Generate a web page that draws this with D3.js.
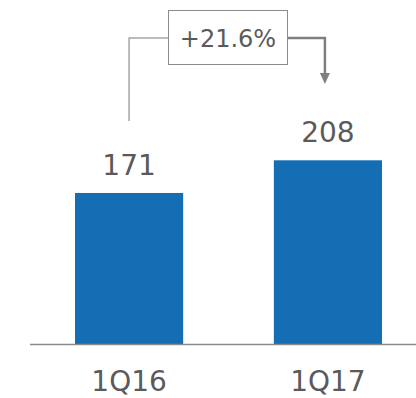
<!DOCTYPE html>
<html>
<head>
<meta charset="utf-8">
<script src="https://cdn.jsdelivr.net/npm/d3@7"></script>
<style>
  body { margin: 0; background: #fff; }
  text { font-family: "DejaVu Sans", Verdana, sans-serif; fill: #5a5a5a; }
</style>
</head>
<body>
<svg id="chart" width="416" height="398"></svg>
<script>
// data
const quarters = ["1Q16", "1Q17"];
const values = [171, 208];
const growthLabel = "+21.6%";

const width = 416, height = 398;
const svg = d3.select("#chart");

const x = d3.scaleBand()
    .domain(quarters)
    .range([75, 382])
    .paddingInner(0.456)
    .paddingOuter(0);

// baseline at 344, 208 reaches ~160
const y = d3.scaleLinear()
    .domain([0, 208])
    .range([344, 160.3]);

svg.selectAll("rect.bar")
    .data(quarters)
    .enter()
    .append("rect")
    .attr("class", "bar")
    .attr("x", d => x(d))
    .attr("y", (d, i) => y(values[i]))
    .attr("width", x.bandwidth())
    .attr("height", (d, i) => y(0) - y(values[i]))
    .attr("fill", "#156db3");

// value labels
svg.selectAll("text.val")
    .data(quarters)
    .enter()
    .append("text")
    .attr("class", "val")
    .attr("x", d => x(d) + x.bandwidth() / 2)
    .attr("y", (d, i) => y(values[i]) - 18)
    .attr("text-anchor", "middle")
    .attr("font-size", 28)
    .text((d, i) => values[i]);

// baseline
svg.append("line")
    .attr("x1", 30).attr("x2", width)
    .attr("y1", y(0) + 0.5).attr("y2", y(0) + 0.5)
    .attr("stroke", "#8c8c8c")
    .attr("stroke-width", 1.5);

// category labels
svg.selectAll("text.cat")
    .data(quarters)
    .enter()
    .append("text")
    .attr("class", "cat")
    .attr("x", d => x(d) + x.bandwidth() / 2)
    .attr("y", 391)
    .attr("text-anchor", "middle")
    .attr("font-size", 28)
    .text(d => d);

// growth annotation
const cx0 = x(quarters[0]) + x.bandwidth() / 2;
const cx1 = x(quarters[1]) + x.bandwidth() / 2 - 3;
const boxX = 168, boxY = 10, boxW = 119, boxH = 54;
const midY = boxY + boxH / 2 + 1;

svg.append("path")
    .attr("d", `M${cx0},121 V${midY} H${boxX}`)
    .attr("fill", "none")
    .attr("stroke", "#a6a6a6")
    .attr("stroke-width", 1.5);

svg.append("path")
    .attr("d", `M${boxX + boxW},${midY} H${cx1} V74`)
    .attr("fill", "none")
    .attr("stroke", "#7f7f7f")
    .attr("stroke-width", 2.5);

svg.append("path")
    .attr("d", `M${cx1 - 5},73 L${cx1 + 5},73 L${cx1},84 Z`)
    .attr("fill", "#7f7f7f");

svg.append("rect")
    .attr("x", boxX + 0.5).attr("y", boxY + 0.5)
    .attr("width", boxW).attr("height", boxH)
    .attr("fill", "#fff")
    .attr("stroke", "#8c8c8c")
    .attr("stroke-width", 1);

svg.append("text")
    .attr("x", boxX + boxW / 2 + 0.5)
    .attr("y", 47)
    .attr("text-anchor", "middle")
    .attr("font-size", 24)
    .text(growthLabel);
</script>
</body>
</html>
